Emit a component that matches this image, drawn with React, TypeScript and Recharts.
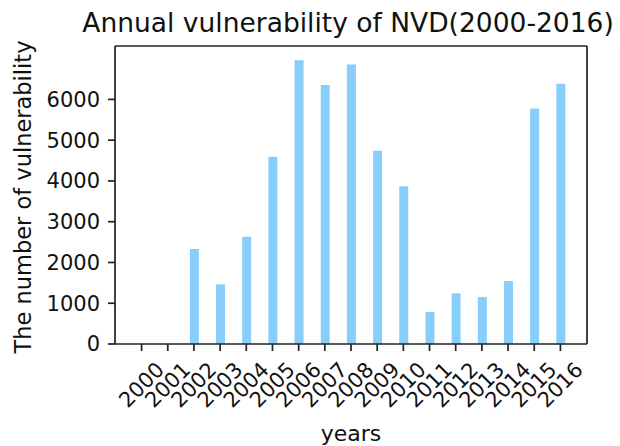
import React from 'react';
import { BarChart, Bar, XAxis, YAxis } from 'recharts';

const years = ['2000','2001','2002','2003','2004','2005','2006','2007','2008','2009','2010','2011','2012','2013','2014','2015','2016'];
const counts = [0, 0, 2333, 1464, 2628, 4595, 6960, 6351, 6859, 4740, 3871, 786, 1243, 1154, 1547, 5778, 6385];
const yTicks = [0, 1000, 2000, 3000, 4000, 5000, 6000];

const data = years.map((y, i) => ({ year: y, count: counts[i] }));

const FONT = 'DejaVu Sans';
const AX = '#222';

const XTick = (props: any) => {
  const { x, payload } = props;
  const cy = 385;
  return (
    <text
      x={x}
      y={cy}
      transform={`rotate(-45 ${x} ${cy})`}
      textAnchor="middle"
      dominantBaseline="central"
      fontFamily={FONT}
      fontSize={21}
      fill="#111"
    >
      {payload.value}
    </text>
  );
};

export default function App() {
  return (
    <div style={{ position: 'absolute', left: 0, top: 0, width: 620, height: 446, background: '#fff' }}>
      <BarChart
        width={620}
        height={446}
        data={data}
        margin={{ top: 45, right: 32, left: 0, bottom: 0 }}
        barCategoryGap={0}
      >
        <XAxis
          dataKey="year"
          xAxisId="b"
          height={102}
          interval={0}
          padding={{ left: 13.5, right: 13.5 }}
          axisLine={{ stroke: AX, strokeWidth: 1.7 }}
          tickLine={{ stroke: AX, strokeWidth: 1.7 }}
          tickSize={7}
          tick={<XTick />}
        />
        <XAxis
          dataKey="year"
          xAxisId="t"
          orientation="top"
          height={1}
          tick={false}
          tickLine={false}
          axisLine={{ stroke: AX, strokeWidth: 1.7 }}
        />
        <YAxis
          yAxisId="l"
          width={115}
          domain={[0, 7310]}
          ticks={yTicks}
          interval={0}
          allowDataOverflow
          axisLine={{ stroke: AX, strokeWidth: 1.7 }}
          tickLine={{ stroke: AX, strokeWidth: 1.7 }}
          tickSize={7}
          tickMargin={8}
          tick={{ fontFamily: FONT, fontSize: 21, fill: '#111' }}
        />
        <YAxis
          yAxisId="r"
          orientation="right"
          width={1}
          domain={[0, 7310]}
          tick={false}
          tickLine={false}
          axisLine={{ stroke: AX, strokeWidth: 1.7 }}
        />
        <Bar
          dataKey="count"
          xAxisId="b"
          yAxisId="l"
          fill="#87CEFA"
          barSize={9}
          isAnimationActive={false}
        />
      </BarChart>
      <svg
        width={620}
        height={446}
        style={{ position: 'absolute', left: 0, top: 0, pointerEvents: 'none' }}
      >
        <text x={348} y={32} textAnchor="middle" fontFamily={FONT} fontSize={26.5} fill="#111">
          Annual vulnerability of NVD(2000-2016)
        </text>
        <text
          x={31}
          y={197}
          transform="rotate(-90 31 197)"
          textAnchor="middle"
          fontFamily={FONT}
          fontSize={22.5}
          fill="#111"
        >
          The number of vulnerability
        </text>
        <text x={351} y={441} textAnchor="middle" fontFamily={FONT} fontSize={22} fill="#111">
          years
        </text>
      </svg>
    </div>
  );
}
